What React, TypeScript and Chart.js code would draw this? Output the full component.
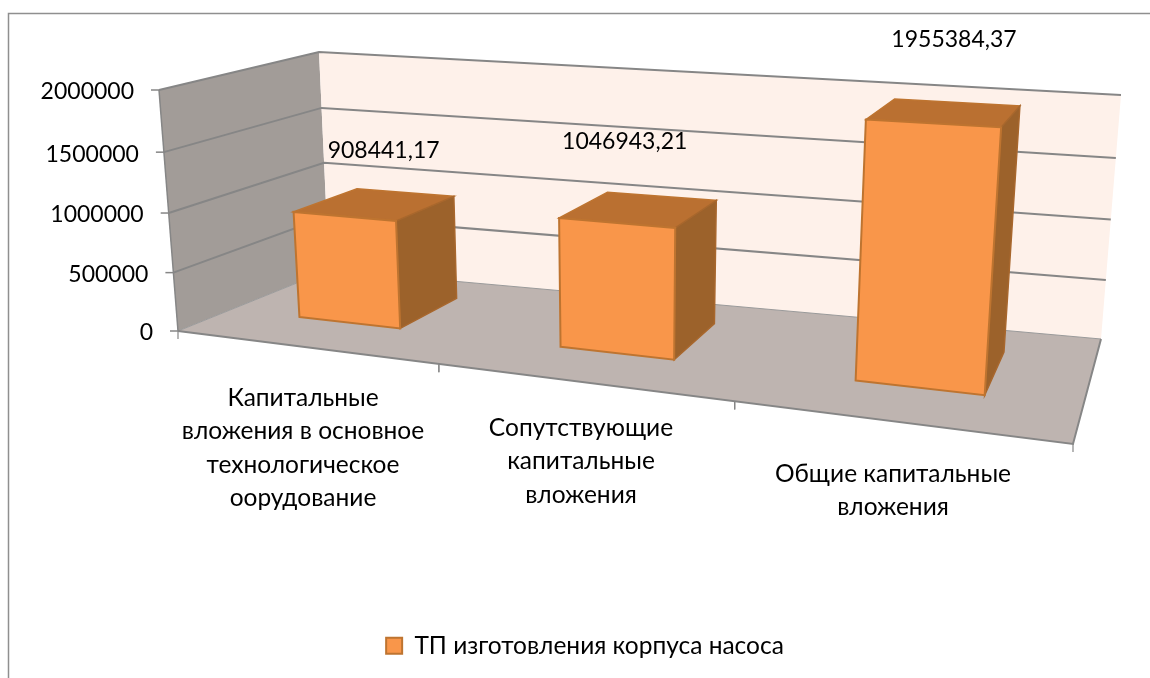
import React, { useEffect, useRef } from "react";
import { Chart, registerables } from "chart.js";

Chart.register(...registerables);

const categories: string[][] = [
  ["Капитальные", "вложения в основное", "технологическое", "оорудование"],
  ["Сопутствующие", "капитальные", "вложения"],
  ["Общие капитальные", "вложения"],
];
const seriesName = "ТП изготовления корпуса насоса";
const seriesValues = [908441.17, 1046943.21, 1955384.37];

// layout of the perspective box: (across, depth, height) -> picture
const boxCorners: number[][] = [
  [0, 0, 0, 178, 331], [1, 0, 0, 1073, 444], [1, 1, 0, 1101, 339], [0, 1, 0, 329, 270],
  [0, 0, 1, 159, 90], [0, 1, 1, 319, 52], [1, 1, 1, 1121, 95],
];
const FONT = '"Lato", "Open Sans", sans-serif';
const FS = 24.5;
const NUM_FS = 23;
const barDepth = [0.32, 0.76];
const shiftU = (u: number) => u * 1.0095 - 0.0066;
const xLabelPos = [[303, 398], [581, 428], [893, 474]];
const dataLabelShift = [[8, -53], [-15, -68], [9, -73]];

function solve(A: number[][], b: number[]) {
  const n = b.length;
  const M = A.map((r, i) => [...r, b[i]]);
  for (let i = 0; i < n; i++) {
    let p = i;
    for (let k = i + 1; k < n; k++) if (Math.abs(M[k][i]) > Math.abs(M[p][i])) p = k;
    [M[i], M[p]] = [M[p], M[i]];
    for (let k = i + 1; k < n; k++) {
      const f = M[k][i] / M[i][i];
      for (let j = i; j <= n; j++) M[k][j] -= f * M[i][j];
    }
  }
  const x = new Array(n).fill(0);
  for (let i = n - 1; i >= 0; i--) {
    let s = M[i][n];
    for (let j = i + 1; j < n; j++) s -= M[i][j] * x[j];
    x[i] = s / M[i][i];
  }
  return x;
}

function fitProjection() {
  const rows: number[][] = [];
  const rhs: number[] = [];
  for (const [u, d, v, X, Y] of boxCorners) {
    rows.push([u, d, v, 1, 0, 0, 0, 0, -X * u, -X * d, -X * v]);
    rhs.push(X);
    rows.push([0, 0, 0, 0, u, d, v, 1, -Y * u, -Y * d, -Y * v]);
    rhs.push(Y);
  }
  const n = 11;
  const AtA = Array.from({ length: n }, (_, i) =>
    Array.from({ length: n }, (_, j) => rows.reduce((s, r) => s + r[i] * r[j], 0))
  );
  const Atb = Array.from({ length: n }, (_, i) => rows.reduce((s, r, k) => s + r[i] * rhs[k], 0));
  const h = solve(AtA, Atb);
  const base = (u: number, d: number, v: number): [number, number] => {
    const w = h[8] * u + h[9] * d + h[10] * v + 1;
    return [
      (h[0] * u + h[1] * d + h[2] * v + h[3]) / w,
      (h[4] * u + h[5] * d + h[6] * v + h[7]) / w,
    ];
  };
  // small correction so that every measured corner is met exactly
  const residuals = boxCorners.map(([u, d, v, X, Y]) => {
    const [bx, by] = base(u, d, v);
    return [u, d, v, X - bx, Y - by];
  });
  return (u: number, d: number, v: number): [number, number] => {
    let [x, y] = base(u, d, v);
    for (const [cu, cd, cv, rx, ry] of residuals) {
      const w = (cu ? u : 1 - u) * (cd ? d : 1 - d) * (cv ? v : 1 - v);
      x += w * rx;
      y += w * ry;
    }
    return [x, y];
  };
}

const P = fitProjection();

function poly(ctx: CanvasRenderingContext2D, pts: [number, number][], fill: string | null, stroke?: string, lw = 1) {
  ctx.beginPath();
  pts.forEach((p, i) => (i ? ctx.lineTo(p[0], p[1]) : ctx.moveTo(p[0], p[1])));
  if (fill) {
    ctx.closePath();
    ctx.fillStyle = fill;
    ctx.fill();
  }
  if (stroke) {
    ctx.strokeStyle = stroke;
    ctx.lineWidth = lw;
    ctx.stroke();
  }
}

const box3d = {
  id: "box3d",
  beforeDatasetsDraw(chart: any) {
    const ctx: CanvasRenderingContext2D = chart.ctx;
    const { chartArea: ca, scales } = chart;
    const yS = scales.y;
    const GRID = "#868686";
    ctx.save();
    // frame of the chart object
    poly(ctx, [[8.5, 678], [8.5, 13.5], [1150, 13.5]], null, "#8f8f8f", 1.5);

    poly(ctx, [P(0, 0, 0), P(0, 1, 0), P(0, 1, 1), P(0, 0, 1)], "#A29C98");
    poly(ctx, [P(0, 1, 0), P(1, 1, 0), P(1, 1, 1), P(0, 1, 1)], "#FEF1EA");
    poly(ctx, [P(0, 0, 0), P(1, 0, 0), P(1, 1, 0), P(0, 1, 0)], "#BEB4B0");

    for (const t of yS.ticks) {
      const v = (ca.bottom - yS.getPixelForValue(t.value)) / ca.height;
      if (v > 0.001) {
        poly(ctx, [P(0, 0, v), P(0, 1, v), P(1, 1, v)], null, GRID, 2);
      } else {
        poly(ctx, [P(0, 0, 0), P(0, 1, 0), P(1, 1, 0)], null, "#9a9a9a", 1);
      }
      const [tx, ty] = P(0, 0, v);
      poly(ctx, [[tx - 8, ty], [tx, ty]], null, GRID, 1.5);
      ctx.fillStyle = "#000";
      ctx.font = `${NUM_FS}px ${FONT}`;
      ctx.textAlign = "right";
      ctx.textBaseline = "middle";
      ctx.fillText(String(t.value), tx - 25, ty + 2);
    }
    poly(ctx, [P(0, 0, 0), P(0, 0, 1)], null, GRID, 1.5);
    poly(ctx, [P(0, 0, 0), P(1, 0, 0), P(1, 1, 0)], null, GRID, 2);

    // category ticks on the front edge of the floor
    categories.forEach((_, i) => {
      [i, i + 1].forEach((k) => {
        const [x, y] = P(k / categories.length, 0, 0);
        poly(ctx, [[x, y], [x, y + 8]], null, GRID, 1.2);
      });
    });

    // bars, read from the library's own bar elements
    const meta = chart.getDatasetMeta(0);
    meta.data.forEach((bar: any) => {
      const u0 = shiftU((bar.x - bar.width / 2 - ca.left) / ca.width);
      const u1 = shiftU((bar.x + bar.width / 2 - ca.left) / ca.width);
      const v = (bar.base - bar.y) / ca.height;
      const [d0, d1] = barDepth;
      const edge = "#BE7430";
      poly(ctx, [P(u0, d0, v), P(u1, d0, v), P(u1, d1, v), P(u0, d1, v)], "#BA7031", edge, 1.5);
      poly(ctx, [P(u1, d0, 0), P(u1, d1, 0), P(u1, d1, v), P(u1, d0, v)], "#9C622B", "#A8672D", 1.5);
      poly(ctx, [P(u0, d0, 0), P(u1, d0, 0), P(u1, d0, v), P(u0, d0, v)], "#F9964A", edge, 2);
    });

    // texts
    ctx.fillStyle = "#000";
    ctx.font = `${FS}px ${FONT}`;
    ctx.textAlign = "center";
    ctx.textBaseline = "middle";
    categories.forEach((lines, i) => {
      lines.forEach((l, j) => ctx.fillText(l, xLabelPos[i][0], xLabelPos[i][1] + j * 33.5));
    });
    ctx.font = `${NUM_FS}px ${FONT}`;
    meta.data.forEach((bar: any, i: number) => {
      const u = shiftU((bar.x - ca.left) / ca.width);
      const v = (bar.base - bar.y) / ca.height;
      const [x, y] = P(u, (barDepth[0] + barDepth[1]) / 2, v);
      ctx.fillText(
        String(seriesValues[i]).replace(".", ","),
        x + dataLabelShift[i][0],
        y + dataLabelShift[i][1]
      );
    });
    ctx.restore();
    return false;
  },
};

export default function App() {
  const ref = useRef<HTMLCanvasElement | null>(null);
  useEffect(() => {
    const chart = new Chart(ref.current as HTMLCanvasElement, {
      type: "bar",
      data: {
        labels: categories.map((c) => c.join(" ")),
        datasets: [
          {
            label: seriesName,
            data: seriesValues,
            backgroundColor: "#F9964A",
            borderColor: "#BE7430",
            borderWidth: 2,
            categoryPercentage: 1,
            barPercentage: 0.4,
          },
        ],
      },
      options: {
        animation: false,
        responsive: false,
        maintainAspectRatio: false,
        layout: { padding: { left: 159, right: 139, top: 91, bottom: 10 } },
        scales: {
          x: {
            ticks: { display: false, autoSkip: false },
            grid: { display: false },
            border: { display: false },
            afterFit: (s: any) => { s.height = 292; },
          },
          y: {
            min: 0,
            max: 2000000,
            ticks: { display: false, stepSize: 500000 },
            grid: { display: false },
            border: { display: false },
            afterFit: (s: any) => { s.width = 0; },
          },
        },
        plugins: {
          tooltip: { enabled: false },
          legend: {
            position: "bottom",
            labels: {
              color: "#000",
              font: { family: FONT, size: FS },
              boxWidth: 16,
              boxHeight: 16,
              padding: 10,
            },
          },
        },
      },
      plugins: [box3d],
    } as any);
    return () => chart.destroy();
  }, []);
  return (
    <div style={{ position: "fixed", left: 0, top: 0, width: 1150, height: 678, background: "#fff" }}>
      <canvas ref={ref} width={1150} height={678} style={{ display: "block" }} />
    </div>
  );
}
